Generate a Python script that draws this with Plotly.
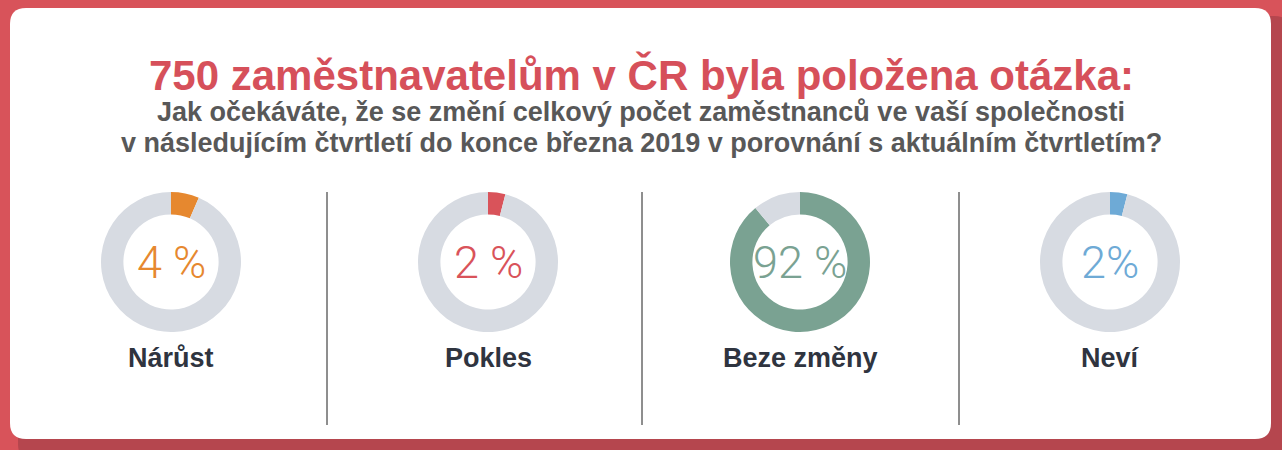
import plotly.graph_objects as go

# ---- data ----
categories = ["Nárůst", "Pokles", "Beze změny", "Neví"]
pct_labels = ["4 %", "2 %", "92 %", "2%"]          # printed values
arc_share = [6.5, 4.0, 89.0, 4.0]                  # share of ring drawn in colour (as drawn)
slice_colors = ["#e6882f", "#d9535a", "#7aa292", "#6eaad6"]
title_text = "750 zaměstnavatelům v ČR byla položena otázka:"
subtitle_lines = [
    "Jak očekáváte, že se změní celkový počet zaměstnanců ve vaší společnosti",
    "v následujícím čtvrtletí do konce března 2019 v porovnání s aktuálním čtvrtletím?",
]

W, H = 1282, 450
RING_GRAY = "#d7dbe2"
centers_x = [171, 488, 800, 1110]
center_y = 262
R = 70
dividers_x = [327, 642, 959]

fig = go.Figure()

# invisible cartesian layer in pixel coordinates
fig.add_trace(go.Scatter(x=[0, W], y=[0, H], mode="markers",
                         marker=dict(opacity=0), hoverinfo="skip", showlegend=False))

for i, cat in enumerate(categories):
    cx = centers_x[i]
    fig.add_trace(go.Pie(
        values=[arc_share[i], 100 - arc_share[i]],
        labels=[cat, "ostatní"],
        marker=dict(colors=[slice_colors[i], RING_GRAY], line=dict(width=0)),
        hole=0.68, sort=False, direction="clockwise", rotation=0,
        textinfo="none", hoverinfo="skip", showlegend=False,
        domain=dict(x=[(cx - R) / W, (cx + R) / W],
                    y=[1 - (center_y + R) / H, 1 - (center_y - R) / H]),
    ))

def rounded_rect(x0, y0, x1, y1, r):
    return (f"M{x0+r},{y0} L{x1-r},{y0} Q{x1},{y0} {x1},{y0+r} "
            f"L{x1},{y1-r} Q{x1},{y1} {x1-r},{y1} L{x0+r},{y1} "
            f"Q{x0},{y1} {x0},{y1-r} L{x0},{y0+r} Q{x0},{y0} {x0+r},{y0} Z")

shapes = [
    dict(type="path", path=rounded_rect(18, 16, 1290, 460, 16), xref="x", yref="y",
         fillcolor="#b5464e", line=dict(width=0), layer="below"),
    dict(type="path", path=rounded_rect(10, 8, 1271, 439, 16), xref="x", yref="y",
         fillcolor="#ffffff", line=dict(width=0), layer="below"),
]
for dx in dividers_x:
    shapes.append(dict(type="line", x0=dx, x1=dx, y0=192, y1=425, xref="x", yref="y",
                       line=dict(color="#1e1e1e", width=1), layer="below"))

annotations = [
    dict(x=641, y=75, text=f"<b>{title_text}</b>", showarrow=False, xref="x", yref="y",
         font=dict(family="Liberation Sans", size=42, color="#d6505a"), yanchor="middle"),
    dict(x=641, y=112, text=f"<b>{subtitle_lines[0]}</b>", showarrow=False, xref="x", yref="y",
         font=dict(family="Liberation Sans", size=27, color="#585858"), yanchor="middle"),
    dict(x=641, y=143, text=f"<b>{subtitle_lines[1]}</b>", showarrow=False, xref="x", yref="y",
         font=dict(family="Liberation Sans", size=27, color="#585858"), yanchor="middle"),
]
for i, cat in enumerate(categories):
    annotations.append(dict(x=centers_x[i], y=center_y, text=pct_labels[i], showarrow=False,
                            xref="x", yref="y", yanchor="middle",
                            font=dict(family="Roboto", size=45, color=slice_colors[i], weight=300)))
    annotations.append(dict(x=centers_x[i], y=358, text=f"<b>{cat}</b>", showarrow=False,
                            xref="x", yref="y", yanchor="middle",
                            font=dict(family="Liberation Sans", size=27, color="#2f343f")))

fig.update_layout(
    width=W, height=H, margin=dict(l=0, r=0, t=0, b=0),
    paper_bgcolor="#d8535a", plot_bgcolor="rgba(0,0,0,0)",
    xaxis=dict(range=[0, W], visible=False, fixedrange=True, domain=[0, 1]),
    yaxis=dict(range=[H, 0], visible=False, fixedrange=True, domain=[0, 1]),
    shapes=shapes, annotations=annotations, showlegend=False,
)

fig.write_html("out.html", config={"displayModeBar": False},
               post_script="document.body.style.margin='0';document.body.style.overflow='hidden';")
